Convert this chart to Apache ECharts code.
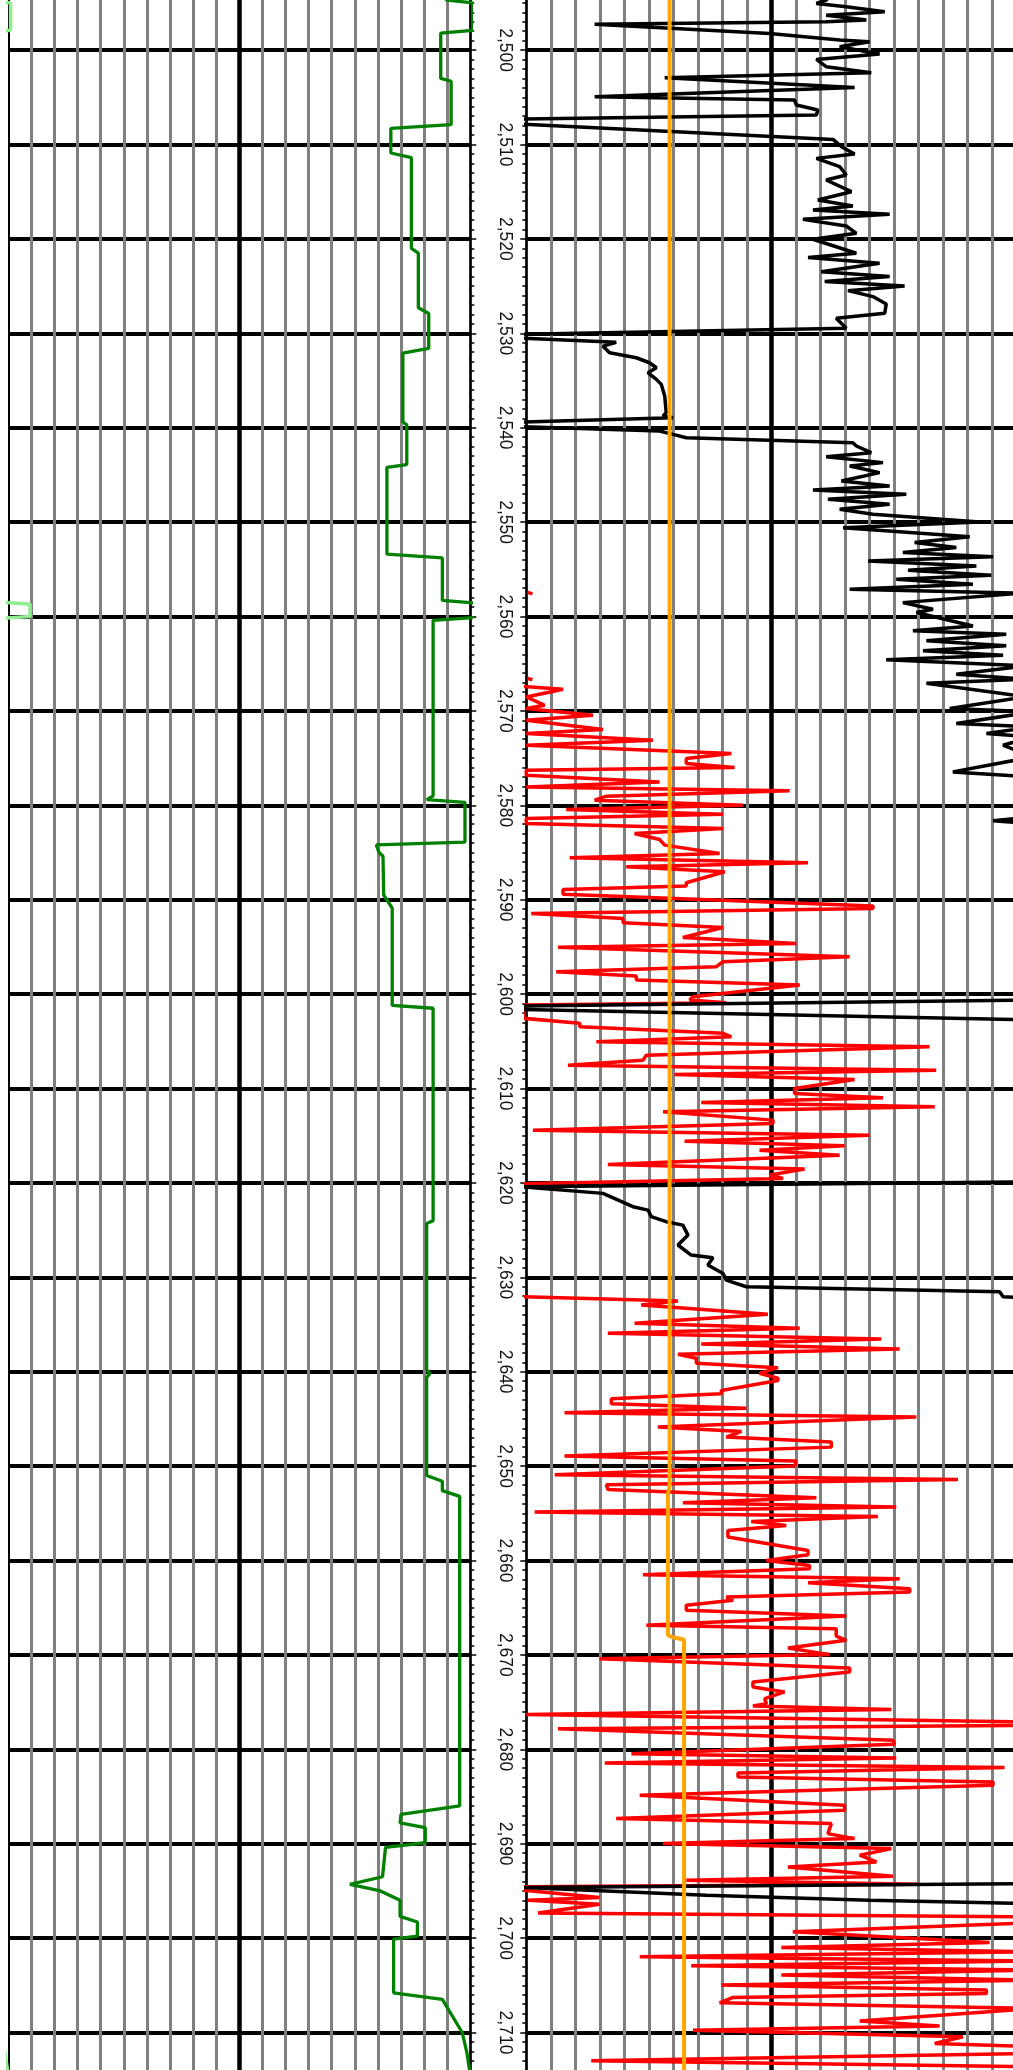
<!DOCTYPE html>
<html><head><meta charset="utf-8">
<script src="https://cdn.jsdelivr.net/npm/echarts/dist/echarts.min.js"></script>
<style>html,body{margin:0;padding:0;background:#fff}#chart{width:1013px;height:2070px}</style>
</head><body><div id="chart"></div>
<script>
// [depth, value] pairs; null = gap
const greenCurve = [
[2494.0,186],[2494.7,190],[2495.0,201],[2497.9,201],[2498.2,187.2],[2503.0,187.2],[2503.3,191.7],[2507.9,191.7],
[2508.3,165.6],[2510.9,165.6],[2511.4,174.5],[2521.0,174.5],[2521.5,177.5],[2527.3,177.5],[2527.9,182],[2531.6,182],
[2532.1,170.8],[2539.4,170.8],[2539.7,172.5],[2543.9,172.5],[2544.2,163.9],[2553.4,163.9],[2553.8,187.9],[2558.3,187.9],
[2558.7,209.4],[2560.0,209.4],[2560.4,183.9],[2579.0,183.9],[2579.4,181.2],[2579.7,197.7],[2583.9,197.7],[2584.2,159.3],
[2585.0,160.5],[2585.4,162.2],[2589.5,162.5],[2590.9,166.2],[2601.2,166.2],[2601.5,183.9],[2624.0,183.9],[2624.3,181.1],
[2639.8,181.1],[2640.2,182.5],[2640.6,181.1],[2651.0,181.1],[2651.6,187.9],[2652.6,187.9],[2653.2,195.4],[2686.0,195.4],
[2686.9,170],[2687.8,169.6],[2688.3,180.5],[2689.9,180.5],[2690.4,163.3],[2693.5,162],[2694.3,147.9],[2695.0,161.1],
[2696.0,169.6],[2697.7,169.6],[2698.3,177.1],[2699.8,177.1],[2700.1,166.8],[2705.8,166.8],[2706.5,187.9],[2710.0,196.5],
[2712.1,198.5],[2714.5,200]
];
const wrapOffset = 200; // backup (wrapped) scale of the same curve

const blackCurve = [
[2494.0,125],[2494.7,122.4],[2495.06,118.4],[2495.41,130.6],[2495.94,146.3],[2496.3,122.4],[2496.8,138.8],[2497.0,122.4],
[2497.25,27.9],[2497.46,27.9],[2498.24,99.3],[2498.94,127.9],[2499.12,140.1],[2499.65,127.9],[2500.42,144.2],[2500.99,118.4],
[2501.76,122.4],[2502.4,140.8],[2502.93,56.5],[2503.1,56.5],[2503.95,134.0],[2504.94,27.9],[2505.29,109.5],[2505.82,110.2],
[2506.35,119.0],[2506.88,118.4],[2507.3,-2],[2507.83,-2],[2509.46,125.2],[2510.23,128.6],[2511.01,134.0],[2511.47,118.4],
[2512.35,127.9],[2513.23,130.6],[2513.76,122.4],[2515.0,132.7],[2515.88,119.0],[2516.51,133.3],[2516.94,117.0],[2517.4,148.3],
[2517.93,112.9],[2518.63,130.6],[2519.41,134.7],[2520.04,117.0],[2521.52,134.7],[2521.98,115.0],[2522.58,144.2],[2523.47,120.4],
[2523.99,148.3],[2524.52,121.8],[2524.98,154.4],[2525.48,131.3],[2526.11,141.5],[2526.89,146.9],[2527.88,146.3],[2528.4,126.5],
[2529.46,130.6],[2530.1,-2],[2530.52,-2],[2530.95,36.7],[2531.36,31.3],[2532.06,34.0],[2532.59,44.9],[2533.12,50.3],
[2533.65,53.1],[2534.18,49.7],[2534.88,53.1],[2535.41,55.1],[2536.65,56.5],[2538.41,57.1],[2538.76,55.8],[2538.94,59.9],
[2539.4,-2],[2539.9,-2],[2540.35,54.4],[2540.71,59.9],[2541.06,65.3],[2541.59,133.3],[2541.94,134.7],[2542.65,140.8],
[2543.07,122.4],[2543.7,145.6],[2544.06,132.0],[2544.76,144.2],[2545.65,128.6],[2546.17,148.3],[2546.6,117.0],[2547.06,155.1],
[2547.59,123.1],[2548.12,148.3],[2548.64,127.9],[2549.17,141.5],[2549.99,185.0],[2550.59,129.3],[2551.54,181.0],[2552.17,158.5],
[2552.7,175.5],[2553.23,153.7],[2553.66,190.5],[2554.11,139.5],[2554.64,183.7],[2555.1,155.8],[2555.63,189.8],[2556.05,151.0],
[2556.58,182.3],[2557.11,132.0],[2557.54,201.4],[2558.53,153.7],[2559.23,166.0],[2559.58,159.2],[2561.0,182.3],[2561.52,157.8],
[2561.88,195.9],[2562.58,163.3],[2563.11,195.9],[2563.64,161.9],[2564.1,194.6],[2564.59,146.9],[2565.23,204.1],[2566.11,175.5],
[2566.64,204.1],[2567.06,163.3],[2568.5,204],[2569.75,172.8],[2570.1,206.8],[2571.34,175.5],[2571.7,206.8],[2572.4,187.8],
[2572.75,206.8],[2573.63,194.6],[2574.87,206.8],[2576.46,174.1],[2576.99,206.8],[2581.22,206.8],[2581.64,190.5],[2581.93,206.8],
[2600.63,206.8],[2601.26,-2],[2601.62,-2],[2602.74,206.8],[2619.88,206.8],[2620.41,-2],[2621.11,31.3],[2622.52,43.5],
[2622.88,49.7],[2623.58,51.0],[2624.11,57.1],[2624.47,63.9],[2625.53,66.0],[2626.58,61.9],[2627.64,67.3],[2627.93,76.2],
[2628.7,74.1],[2629.59,80.3],[2630.29,81.6],[2631.0,89.8],[2631.52,193.2],[2632.05,194.6],[2632.23,206.8],[2694.22,206.8],
[2694.64,-2],[2695.45,73.5],[2695.98,140.1],[2696.34,206.8],[2714.5,206.8]
];

const redCurve = [
[2557.45,0.5],[2557.6,2.5],null,
[2566.55,0.5],[2566.7,2.5],null,
[2567.42,-1],[2567.7,15.0],[2567.81,15.0],[2568.52,0],[2569.4,7.5],[2569.75,0],[2570.46,27.2],[2570.99,0],[2571.98,31.3],
[2572.4,0],[2573.11,51.7],[2573.63,0],[2574.52,83.7],[2575.05,65.3],[2575.58,65.3],[2576.0,85.0],[2576.28,0],[2576.81,0],
[2577.52,54.4],[2578.05,0],[2578.47,107.5],[2579.03,32.7],[2579.46,27.9],[2579.99,88.4],[2580.44,16.3],[2580.94,80.3],
[2581.4,0],[2581.93,0],[2582.46,80.3],[2582.99,44.2],[2583.62,54.4],[2584.22,56.5],[2585.1,78.9],[2585.56,17.7],
[2586.09,115.0],[2586.51,40.8],[2587.04,81.0],[2588.21,65.3],[2588.56,65.3],[2588.91,15.0],[2589.41,15.0],[2590.68,141.5],
[2590.92,141.5],[2591.45,2.0],[2591.98,39.5],[2592.44,39.5],[2592.94,80.3],[2594.0,63.9],[2594.63,110.2],[2595.05,12.9],
[2596.04,132.0],[2596.57,80.3],[2597.1,77.6],[2597.63,12.2],[2598.09,44.9],[2598.51,44.9],[2599.04,111.6],[2600.27,68.0],
[2600.63,66.7],[2600.91,81.6],[2601.16,-1],[2602.57,-1],[2603.1,21.8],[2603.45,21.8],[2604.16,80.3],[2604.53,83.7],
[2605.06,28.6],[2605.59,164.6],[2606.47,49.0],[2607.0,47.6],[2607.53,17.0],[2608.06,167.3],[2608.52,60.5],[2609.05,134.0],
[2610.0,109.5],[2610.53,109.5],[2610.99,145.6],[2611.48,71.4],[2611.94,166.7],[2612.47,55.8],[2613.35,100.7],[2613.7,100.7],
[2614.41,2.7],[2614.94,140.1],[2615.58,64.6],[2616.07,129.9],[2616.53,95.2],[2617.06,127.9],[2618.05,33.3],[2618.54,113.6],
[2619.17,99.3],[2619.53,104.8],[2620.09,-1],null,
[2632.05,-1],[2632.51,61.9],[2632.94,46.9],[2633.92,98.6],[2634.88,44.2],[2635.41,111.6],[2635.94,33.3],[2636.53,144.9],
[2637.06,71.4],[2637.59,152.4],[2638.16,61.9],[2638.58,69.4],[2639.11,69.4],[2639.57,102.7],[2640.17,95.2],[2640.7,102.7],
[2640.93,102.7],[2641.99,79.6],[2642.34,79.6],[2642.87,34.7],[2643.4,34.7],[2643.86,89.8],[2644.35,15.6],[2644.81,159.2],
[2645.87,53.7],[2646.33,87.8],[2646.93,81.6],[2647.46,124.5],[2647.99,124.5],[2648.94,15.6],[2649.47,110.2],[2650.0,109.5],
[2650.92,11.6],[2651.41,176.2],[2651.98,32.7],[2652.47,33.3],[2653.35,118.4],[2653.88,63.9],[2654.34,151.0],[2654.87,3.4],
[2655.33,143.5],[2655.86,91.8],[2656.28,106.1],[2656.81,82.3],[2657.52,82.3],[2658.93,115.0],[2659.39,115.0],[2659.99,98.0],
[2660.52,115.6],[2660.87,115.6],[2661.5,47.6],[2661.93,152.4],[2662.35,115.0],[2662.99,156.5],[2663.34,156.5],[2663.87,81.6],
[2664.22,84.4],[2664.75,65.3],[2665.28,65.3],[2665.88,130.6],[2666.87,49.0],[2667.22,126.5],[2668.0,126.5],[2668.45,130.6],
[2669.27,106.8],[2669.97,123.8],[2670.4,29.9],[2671.38,132.0],[2671.81,132.0],[2672.87,92.5],[2673.39,92.5],[2673.92,105.4],
[2674.63,97.3],[2675.16,98.0],[2675.41,92.5],[2675.79,149.0],[2676.32,0],[2677.1,206.8],[2677.46,206.8],[2677.81,12.9],
[2679.05,149.7],[2679.47,150.3],[2680.46,42.9],[2680.92,151.0],[2681.45,32.0],[2681.94,195.2],[2682.51,86.4],[2682.93,86.4],
[2683.46,190.5],[2683.81,190.5],[2684.87,46.3],[2685.93,129.9],[2686.46,129.9],[2687.34,36.7],[2687.87,124.5],[2688.93,123.1],
[2689.46,134.0],[2689.99,55.8],[2690.52,149.0],[2691.22,136.1],[2691.93,142.9],[2692.46,106.8],[2693.44,149.7],[2693.87,65.3],
[2694.29,159.9],[2694.57,-1],[2694.93,-1],[2695.7,29.9],[2695.98,0.7],[2696.41,29.9],[2697.33,4.8],[2697.75,206.8],
[2698.38,206.8],[2699.34,108.8],[2700.47,189.1],[2701.0,104.1],[2701.45,206.8],[2701.98,46.3],[2702.41,206.8],[2702.94,67.3],
[2703.39,206.8],[2703.92,104.1],[2704.45,206.8],[2704.98,79.6],[2705.51,187.8],[2705.86,187.8],[2706.29,84.4],[2706.85,78.9],
[2707.45,206.8],[2708.79,136.1],[2709.32,168.7],[2709.75,68.0],[2710.45,178.2],[2711.16,166.7],[2711.51,206.8],[2712.22,206.8],
[2712.99,26.5],[2713.63,206.8],[2714.5,206.8]
];

const orangeCurve = [
[2490,58.5],[2652,58.5],[2653,57.8],[2667.9,57.8],[2668.1,59.5],[2668.4,64.4],[2720,64.4]
];

const depthMin = 2490, depthMax = 2720, depthStep = 10;
const trackMin = 0, trackMax = 200, trackMajor = 100;

function toXY(arr, off) {
  off = off || 0;
  return arr.map(p => p ? [p[1] - off, p[0]] : ['-', '-']);
}
function fmtDepth(v) { return Math.round(v).toLocaleString('en-US'); }

const gridTop = -44.3, gridHeight = 2171.2;

const chart = echarts.init(document.getElementById('chart'), null, {renderer: 'canvas'});

function trackX(gi) {
  return {
    gridIndex: gi, type: 'value', min: trackMin, max: trackMax, interval: trackMajor, position: 'top',
    axisLine: {show: false}, axisTick: {show: false}, axisLabel: {show: false},
    splitLine: {show: true, showMinLine: false, showMaxLine: gi === 1, lineStyle: {color: '#000', width: 4.5}},
    minorTick: {show: false, splitNumber: 10},
    minorSplitLine: {show: true, lineStyle: {color: '#808080', width: 3}}
  };
}
function depthY(gi, pos, opts) {
  return Object.assign({
    gridIndex: gi, type: 'value', inverse: true, min: depthMin, max: depthMax, interval: depthStep, position: pos,
    axisLine: {show: true, onZero: false, lineStyle: {color: '#000', width: 2.7}},
    axisTick: {show: false}, minorTick: {show: false}, axisLabel: {show: false},
    splitLine: {show: false}
  }, opts || {});
}

const lineBase = {type: 'line', showSymbol: false, symbol: 'none', connectNulls: false, clip: true, animation: false, silent: true};

chart.setOption({
  animation: false,
  backgroundColor: '#fff',
  grid: [
    {left: 8.3, top: gridTop, width: 462, height: gridHeight, containLabel: false, outerBoundsMode: 'none'},
    {left: 526.3, top: gridTop, width: 490, height: gridHeight, containLabel: false, outerBoundsMode: 'none'}
  ],
  xAxis: [trackX(0), trackX(1)],
  yAxis: [
    depthY(0, 'right', {
      axisTick: {show: true, inside: false, length: 6, lineStyle: {color: '#000', width: 1.5}},
      minorTick: {show: true, splitNumber: 10, length: 4, lineStyle: {color: '#000', width: 1.5}},
      splitLine: {show: true, lineStyle: {color: '#000', width: 4}}
    }),
    depthY(0, 'left', {axisLine: {show: true, onZero: false, lineStyle: {color: '#000', width: 2}}}),
    depthY(1, 'left', {
      axisTick: {show: true, inside: false, length: 6, lineStyle: {color: '#000', width: 1.5}},
      minorTick: {show: true, splitNumber: 10, length: 4, lineStyle: {color: '#000', width: 1.5}},
      splitLine: {show: true, lineStyle: {color: '#000', width: 4}},
      axisLabel: {show: true, rotate: -90, margin: 21, align: 'center', verticalAlign: 'middle',
        fontFamily: 'Liberation Sans, Arial, sans-serif', fontSize: 17.5, color: '#111', formatter: fmtDepth}
    })
  ],
  series: [
    Object.assign({}, lineBase, {name: 'green', xAxisIndex: 0, yAxisIndex: 0, data: toXY(greenCurve),
      lineStyle: {color: '#008000', width: 3.3}, z: 3}),
    Object.assign({}, lineBase, {name: 'greenWrap', xAxisIndex: 0, yAxisIndex: 0, data: toXY(greenCurve, wrapOffset),
      lineStyle: {color: '#90ee90', width: 3.5}, z: 3}),
    Object.assign({}, lineBase, {name: 'red', xAxisIndex: 1, yAxisIndex: 2, data: toXY(redCurve),
      lineStyle: {color: '#ff0000', width: 3.5}, z: 3}),
    Object.assign({}, lineBase, {name: 'black', xAxisIndex: 1, yAxisIndex: 2, data: toXY(blackCurve),
      lineStyle: {color: '#000000', width: 3.5}, z: 4}),
    Object.assign({}, lineBase, {name: 'orange', xAxisIndex: 1, yAxisIndex: 2, data: toXY(orangeCurve),
      lineStyle: {color: '#ffa500', width: 4}, z: 5})
  ]
});
</script></body></html>
